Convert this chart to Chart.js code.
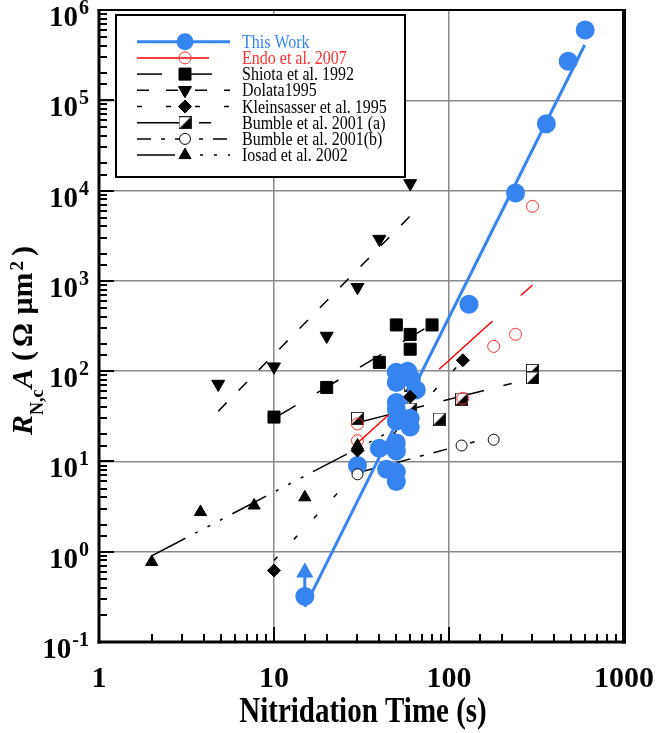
<!DOCTYPE html>
<html lang="en">
<head>
<meta charset="UTF-8">
<title>Nitridation Time</title>
<script src="https://cdn.jsdelivr.net/npm/chart.js"></script>
<style>
  html, body { margin: 0; padding: 0; background: #fff; }
</style>
</head>
<body>
<canvas id="chart" width="657" height="733"></canvas>
<script>
// legend labels, in legend order
const studyLabels = ['This Work', 'Endo et al. 2007', 'Shiota et al. 1992', 'Dolata1995',
  'Kleinsasser et al. 1995', 'Bumble et al. 2001 (a)', 'Bumble et al. 2001(b)', 'Iosad et al. 2002'];

// This Work (nitridation time s, R A in ohm um^2)
const thisWorkX = [15, 30, 40, 44, 50, 50, 50, 50, 50, 50, 50, 50, 50, 58, 61, 65, 60, 60, 130, 240, 360, 480, 600];
const thisWorkY = [0.32, 9, 14, 8.2, 6, 7.7, 13, 16, 28, 38, 45, 75, 97, 100, 82, 62, 24, 30, 550, 9400, 55000, 270000, 600000];
const thisWorkFitX = [15, 596];
const thisWorkFitY = [0.245, 410000];
const arrowX = [15, 15];
const arrowY = [0.32, 0.59];

const endoX = [30, 30, 120, 180, 240, 300];
const endoY = [26, 17, 50, 188, 256, 6700];
const endoFitX = [30, 300];
const endoFitY = [16, 900];

const shiotaX = [10, 20, 40, 50, 60, 60, 80];
const shiotaY = [31, 66, 125, 325, 255, 175, 325];
const shiotaFitX = [10, 80];
const shiotaFitY = [30, 330];

const dolataX = [4.8, 10, 20, 30, 40, 60];
const dolataY = [72, 112, 245, 850, 2900, 12000];
const dolataFitX = [4.8, 61];
const dolataFitY = [36, 5400];

const kleinX = [10, 30, 60, 120];
const kleinY = [0.62, 13.2, 52, 132];
const kleinFitX = [10, 110];
const kleinFitY = [0.8, 110];

const bumbleAX = [30, 60, 60, 88, 118, 300, 300];
const bumbleAY = [30, 38, 70, 29.5, 49, 102, 84];
const bumbleAFitX = [28, 228];
const bumbleAFitY = [26, 73];

const bumbleBX = [30, 118, 180];
const bumbleBY = [7.2, 15, 17.4];
const bumbleBFitX = [31, 140];
const bumbleBFitY = [7.6, 16.5];

const iosadX = [2, 3.8, 7.7, 15, 30];
const iosadY = [0.77, 2.75, 3.25, 4.0, 15];
const iosadFitX = [2, 60];
const iosadFitY = [0.9, 28];

const BLUE = '#3584f0';
const RED = '#ff3030';
const GRID = '#8a8a8a';
const FONT = '"Liberation Serif", "Times New Roman", serif';

function pts(xs, ys) {
    return xs.map((x, i) => ({ x: x, y: ys[i] }));
}

function isMajor(v) {
    const l = Math.log10(v);
    return Math.abs(l - Math.round(l)) < 1e-6;
}

// half filled square marker (Bumble a)
function halfSquare(size) {
    const c = document.createElement('canvas');
    c.width = size;
    c.height = size;
    const g = c.getContext('2d');
    g.fillStyle = '#fff';
    g.fillRect(0, 0, size, size);
    g.fillStyle = '#000';
    g.beginPath();
    g.moveTo(size, 0);
    g.lineTo(size, size);
    g.lineTo(0, size);
    g.closePath();
    g.fill();
    g.strokeStyle = '#222';
    g.lineWidth = 1;
    g.strokeRect(0.5, 0.5, size - 1, size - 1);
    return c;
}
const halfSq = halfSquare(13);

function markers(study, xs, ys, style) {
    return Object.assign({ study: study, kind: 'marker', data: pts(xs, ys), showLine: false }, style);
}

function fitLine(study, xs, ys, color, width, dash) {
    return {
        study: study, kind: 'line', data: pts(xs, ys), showLine: true,
        borderColor: color, borderWidth: width, borderDash: dash, pointRadius: 0, fill: false
    };
}

const black = { pointBackgroundColor: '#000', pointBorderColor: '#000', pointBorderWidth: 1 };

// first dataset is drawn on top
const datasets = [
    markers(4, kleinX, kleinY, Object.assign({ pointStyle: 'rectRot', pointRadius: 6.5 }, black)),
    markers(7, iosadX, iosadY, Object.assign({ pointStyle: 'triangle', pointRadius: 7 }, black)),
    markers(2, shiotaX, shiotaY, Object.assign({ pointStyle: 'rect', pointRadius: 8.5 }, black)),
    markers(3, dolataX, dolataY, Object.assign({ pointStyle: 'triangle', pointRadius: 7.5, pointRotation: 180 }, black)),
    markers(1, endoX, endoY, { pointStyle: 'circle', pointRadius: 6, pointBackgroundColor: 'rgba(0,0,0,0)', pointBorderColor: RED, pointBorderWidth: 1 }),
    markers(6, bumbleBX, bumbleBY, { pointStyle: 'circle', pointRadius: 5.5, pointBackgroundColor: '#fff', pointBorderColor: '#000', pointBorderWidth: 1 }),
    markers(0, thisWorkX, thisWorkY, { pointStyle: 'circle', pointRadius: 9.5, pointBackgroundColor: BLUE, pointBorderColor: BLUE, pointBorderWidth: 0 }),
    {
        kind: 'arrow', data: pts(arrowX, arrowY), showLine: true, borderColor: BLUE, borderWidth: 3,
        pointStyle: 'triangle', pointRadius: [0, 10], pointBackgroundColor: BLUE, pointBorderColor: BLUE, pointBorderWidth: 0
    },
    markers(5, bumbleAX, bumbleAY, { pointStyle: halfSq, pointRadius: 7 }),
    fitLine(0, thisWorkFitX, thisWorkFitY, BLUE, 3, []),
    fitLine(1, endoFitX, endoFitY, '#ff0000', 1.5, [72, 38]),
    fitLine(2, shiotaFitX, shiotaFitY, '#000', 1.5, [25, 25]),
    fitLine(3, dolataFitX, dolataFitY, '#000', 1.5, [12, 17]),
    fitLine(4, kleinFitX, kleinFitY, '#000', 1.5, [5, 24]),
    fitLine(5, bumbleAFitX, bumbleAFitY, '#000', 1.5, [42, 20, 12, 20]),
    fitLine(6, bumbleBFitX, bumbleBFitY, '#000', 1.5, [14, 10, 4, 10]),
    fitLine(7, iosadFitX, iosadFitY, '#000', 1.5, [38, 11, 3, 11, 3, 11, 3, 11])
];

// draw one marker like the chart does (for the legend)
function drawMarker(ctx, ds, x, y, r) {
    const style = ds.pointStyle;
    if (typeof style !== 'string') {
        ctx.drawImage(style, x - style.width / 2, y - style.height / 2);
        return;
    }
    ctx.save();
    ctx.fillStyle = ds.pointBackgroundColor;
    ctx.strokeStyle = ds.pointBorderColor;
    ctx.lineWidth = ds.pointBorderWidth;
    ctx.beginPath();
    if (style === 'circle') {
        ctx.arc(x, y, r, 0, Math.PI * 2);
    } else if (style === 'rect') {
        const s = Math.SQRT1_2 * r;
        ctx.rect(x - s, y - s, 2 * s, 2 * s);
    } else if (style === 'rectRot') {
        ctx.moveTo(x - r, y);
        ctx.lineTo(x, y - r);
        ctx.lineTo(x + r, y);
        ctx.lineTo(x, y + r);
        ctx.closePath();
    } else if (style === 'triangle') {
        let rad = (ds.pointRotation || 0) * Math.PI / 180;
        for (let k = 0; k < 3; k++) {
            const px = x + Math.sin(rad) * r, py = y - Math.cos(rad) * r;
            if (k === 0) ctx.moveTo(px, py); else ctx.lineTo(px, py);
            rad += 2 * Math.PI / 3;
        }
        ctx.closePath();
    }
    ctx.fill();
    if (ds.pointBorderWidth > 0) ctx.stroke();
    ctx.restore();
}

const decorations = {
    id: 'decorations',
    afterDatasetsDraw(chart) {
        const ctx = chart.ctx;
        const a = chart.chartArea;
        const xs = chart.scales.x, ys = chart.scales.y;
        ctx.save();
        ctx.strokeStyle = '#000';
        ctx.lineWidth = 2;
        // inward tick marks on the bottom and left axes
        xs.ticks.forEach(t => {
            const px = Math.round(xs.getPixelForValue(t.value));
            const len = isMajor(t.value) ? 15 : 8;
            ctx.beginPath();
            ctx.moveTo(px, a.bottom);
            ctx.lineTo(px, a.bottom - len);
            ctx.stroke();
        });
        ys.ticks.forEach(t => {
            const py = Math.round(ys.getPixelForValue(t.value));
            const len = isMajor(t.value) ? 15 : 8;
            ctx.beginPath();
            ctx.moveTo(a.left, py);
            ctx.lineTo(a.left + len, py);
            ctx.stroke();
        });
        // frame
        const side = (w, x1, y1, x2, y2) => {
            ctx.lineWidth = w;
            ctx.beginPath();
            ctx.moveTo(x1, y1);
            ctx.lineTo(x2, y2);
            ctx.stroke();
        };
        side(3, a.left, a.top - 1, a.left, a.bottom + 1.5);
        side(3, a.left - 1.5, a.bottom, a.right + 2, a.bottom);
        side(4, a.right, a.top - 1, a.right, a.bottom + 1.5);
        side(2, a.left - 1.5, a.top, a.right + 2, a.top);
        ctx.restore();
    },
    afterDraw(chart) {
        const ctx = chart.ctx;
        const a = chart.chartArea;
        const xs = chart.scales.x, ys = chart.scales.y;
        ctx.save();
        ctx.fillStyle = '#000';
        ctx.textBaseline = 'alphabetic';

        // y tick labels 10^n
        ys.ticks.forEach(t => {
            if (!isMajor(t.value)) return;
            const py = ys.getPixelForValue(t.value);
            const e = String(Math.round(Math.log10(t.value)));
            ctx.font = 'bold 20px ' + FONT;
            const ws = ctx.measureText(e).width;
            ctx.font = 'bold 29px ' + FONT;
            const wb = ctx.measureText('10').width;
            const right = 89;
            ctx.textAlign = 'left';
            ctx.fillText('10', right - ws - wb - 1, py + 16);
            ctx.font = 'bold 20px ' + FONT;
            ctx.fillText(e, right - ws, py + 4);
        });

        // x tick labels
        ctx.font = 'bold 30px ' + FONT;
        ctx.textAlign = 'center';
        xs.ticks.forEach(t => {
            if (!isMajor(t.value)) return;
            const px = xs.getPixelForValue(t.value);
            ctx.fillText(String(Math.round(t.value)), px, 687);
        });

        // x title
        ctx.font = 'bold 29px ' + FONT;
        ctx.textAlign = 'center';
        ctx.save();
        ctx.translate(363, 722);
        ctx.scale(1, 1.2);
        ctx.fillText('Nitridation Time (s)', 0, 0);
        ctx.restore();

        // y title: R_{N,c}A (Ω μm²), gap = space after each piece
        const pieces = [
            { t: 'R', f: 'italic bold 30px ', dv: 0, gap: 0 },
            { t: 'N,c', f: 'bold 18px ', dv: 11, gap: 1 },
            { t: 'A', f: 'italic bold 30px ', dv: 0, gap: 0 },
            { t: ' (', f: 'bold 30px ', dv: 0, gap: 4 },
            { t: 'Ω', f: 'bold 30px ', dv: 0, gap: 1 },
            { t: ' μm', f: 'bold 30px ', dv: 0, gap: 2 },
            { t: '2', f: 'bold 19px ', dv: -9, gap: 5 },
            { t: ')', f: 'bold 30px ', dv: 0, gap: 0 }
        ];
        ctx.save();
        ctx.translate(32, 435);
        ctx.rotate(-Math.PI / 2);
        ctx.textAlign = 'left';
        let u = 0;
        pieces.forEach(p => {
            ctx.font = p.f + FONT;
            ctx.fillText(p.t, u, p.dv);
            u += ctx.measureText(p.t).width + p.gap;
        });
        ctx.restore();

        // legend box
        const bx = 116, by = 15, bw = 289, bh = 162;
        ctx.fillStyle = '#fff';
        ctx.fillRect(bx, by, bw, bh);
        ctx.strokeStyle = '#000';
        ctx.lineWidth = 2;
        ctx.strokeRect(bx, by, bw, bh);

        studyLabels.forEach((label, i) => {
            const y = 41.7 + i * 16.2;
            const line = datasets.find(d => d.study === i && d.kind === 'line');
            const mark = datasets.find(d => d.study === i && d.kind === 'marker');
            ctx.save();
            ctx.strokeStyle = line.borderColor;
            ctx.lineWidth = line.borderWidth;
            ctx.setLineDash(line.borderDash);
            ctx.beginPath();
            ctx.moveTo(137, y);
            ctx.lineTo(230, y);
            ctx.stroke();
            ctx.restore();
            drawMarker(ctx, mark, 185, y, i === 0 ? 8.5 : mark.pointRadius);
            ctx.save();
            ctx.fillStyle = i === 0 ? BLUE : (i === 1 ? RED : '#000');
            ctx.font = '16px ' + FONT;
            ctx.textAlign = 'left';
            ctx.translate(242, y + 6);
            ctx.scale(1, 1.2);
            ctx.fillText(label, 0, 0);
            ctx.restore();
        });
        ctx.restore();
    }
};

const chart = new Chart(document.getElementById('chart').getContext('2d'), {
    type: 'scatter',
    data: { datasets: datasets },
    options: {
        responsive: false,
        animation: false,
        events: [],
        layout: { padding: { left: 99, top: 10, right: 33, bottom: 91 } },
        plugins: { legend: { display: false }, tooltip: { enabled: false } },
        scales: {
            x: {
                type: 'logarithmic', min: 1, max: 1000,
                border: { display: false },
                ticks: { display: false },
                grid: { drawTicks: false, lineWidth: 1.5, color: c => isMajor(c.tick.value) ? GRID : 'rgba(0,0,0,0)' }
            },
            y: {
                type: 'logarithmic', min: 0.1, max: 1000000,
                border: { display: false },
                ticks: { display: false },
                grid: { drawTicks: false, lineWidth: 1.5, color: c => isMajor(c.tick.value) ? GRID : 'rgba(0,0,0,0)' }
            }
        }
    },
    plugins: [decorations]
});
</script>
</body>
</html>
